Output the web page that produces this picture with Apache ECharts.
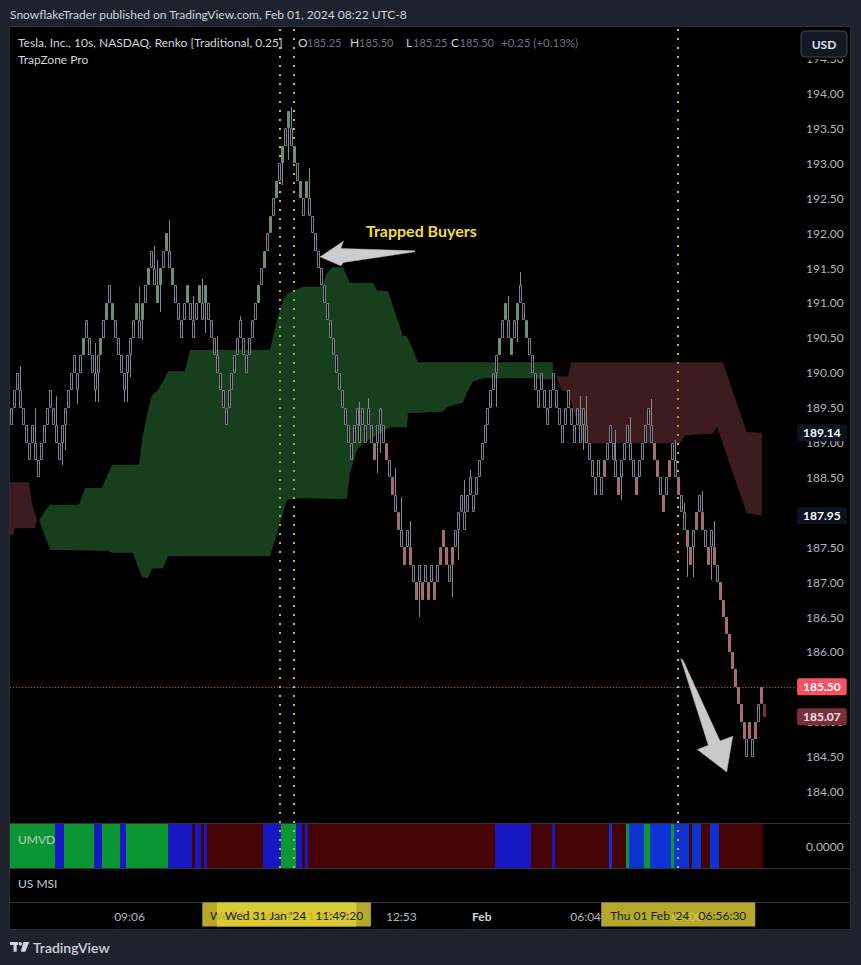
<!DOCTYPE html>
<html>
<head>
<meta charset="utf-8">
<title>TSLA Renko - TrapZone Pro</title>
<script src="https://cdn.jsdelivr.net/npm/echarts@6/dist/echarts.min.js"></script>
<style>
  html, body { margin: 0; padding: 0; background: #1e222d; }
  #chart { width: 861px; height: 965px; }
</style>
</head>
<body>
<div id="chart"></div>
<script>
// ===================== DATA =====================
const BOX_SIZE = 0.25;

// bottom price of every renko brick, left to right
const brickBottoms = [
  189.25, 189.5, 189.75, 189.5, 189.25, 189.0, 188.75, 189.0, 188.75, 188.5,
  188.75, 189.0, 189.25, 189.5, 189.25, 189.0, 188.75, 189.0, 189.25, 189.5,
  189.75, 190.0, 189.75, 190.0, 190.25, 190.5, 190.25, 190.0, 189.75, 190.0,
  190.25, 190.5, 190.75, 191.0, 190.75, 190.5, 190.25, 190.0, 189.75, 190.0,
  190.25, 190.5, 190.75, 190.5, 190.75, 191.0, 191.25, 191.5, 191.25, 191.0,
  191.25, 191.5, 191.75, 191.5, 191.25, 191.0, 190.75, 190.5, 190.75, 191.0,
  190.75, 190.5, 190.75, 191.0, 190.75, 191.0, 190.75, 190.5, 190.25, 190.0,
  189.75, 189.5, 189.25, 189.5, 189.75, 190.0, 190.25, 190.5, 190.25, 190.0,
  190.25, 190.5, 190.75, 191.0, 191.25, 191.5, 191.75, 192.0, 192.25, 192.5,
  192.75, 193.0, 193.25, 193.5, 193.25, 193.0, 192.75, 192.5, 192.25, 192.5,
  192.25, 192.0, 191.75, 191.5, 191.25, 191.0, 190.75, 190.5, 190.25, 190.0,
  189.75, 189.5, 189.25, 189.0, 188.75, 189.0, 189.25, 189.0, 189.25, 189.0,
  189.25, 189.0, 188.75, 189.0, 189.25, 189.0, 188.75, 188.5, 188.25, 188.0,
  187.75, 187.5, 187.25, 187.5, 187.25, 187.0, 186.75, 187.0, 186.75, 187.0,
  186.75, 187.0, 186.75, 187.0, 187.25, 187.5, 187.25, 187.0, 187.25, 187.5,
  187.75, 188.0, 187.75, 188.0, 188.25, 188.0, 188.25, 188.5, 188.75, 189.0,
  189.25, 189.5, 189.75, 190.0, 190.25, 190.5, 190.75, 190.5, 190.25, 190.5,
  190.75, 191.0, 190.75, 190.5, 190.25, 190.0, 189.75, 189.5, 189.75, 189.5,
  189.25, 189.5, 189.75, 189.5, 189.25, 189.0, 189.25, 189.5, 189.25, 189.0,
  189.25, 189.0, 189.25, 189.0, 188.75, 188.5, 188.25, 188.5, 188.25, 188.5,
  188.75, 189.0, 188.75, 188.5, 188.25, 188.5, 188.75, 189.0, 188.75, 188.5,
  188.25, 188.5, 188.75, 189.0, 189.25, 189.0, 188.75, 188.5, 188.25, 188.0,
  188.25, 188.5, 188.75, 188.5, 188.25, 188.0, 187.75, 187.5, 187.25, 187.5,
  187.75, 188.0, 187.75, 187.5, 187.25, 187.5, 187.25, 187.0, 186.75, 186.5,
  186.25, 186.0, 185.75, 185.5, 185.25, 185.0, 184.75, 184.5, 184.75, 184.5,
  184.75, 185.0, 185.25
];

// bricks painted green / red by the indicator (others: black body)
const greenBricks = [24, 30, 32, 34, 42, 44, 46, 49, 50, 52, 54, 59, 63, 65,
  83, 85, 87, 89, 91, 93, 95, 97, 99, 164, 166, 168, 170, 173];
const redBricks = [122, 126, 128, 130, 132, 134, 136, 138, 140, 142, 144, 145, 146, 148,
  199, 204, 210, 216, 217, 219, 221, 224, 227, 228, 230, 232, 234, 236,
  238, 239, 240, 241, 242, 243, 244, 245, 246, 248, 250, 252];

// wicks: brick index, low, high (null = no wick on that side)
const wickIndex = [3, 8, 15, 17, 18, 22, 28, 29, 38, 39, 40, 43, 44, 48, 49, 50, 53, 61, 64, 65,
  69, 77, 91, 93, 94, 100, 117, 120, 123, 124, 129, 131, 134, 137, 148, 150, 152, 154, 163, 167,
  170, 171, 191, 192, 193, 203, 205, 208, 215, 223, 226, 227, 229, 232, 235, 236];
const wickLow = [null, null, null, 188.68, 188.89, 189.55, 189.58, 189.58, 189.58, 189.58,
  189.94, null, 190.47, null, null, 190.87, null, null, null, 190.57,
  null, null, 192.69, 193.05, null, null, null, null, 188.56, 188.85,
  null, null, null, 186.5, 186.79, 187.32, null, null, 189.51, null,
  190.44, null, null, 188.89, null, null, 188.18, null, null, null,
  null, 187.08, 187.08, null, 187.03, null];
const wickHigh = [190.1, 189.5, 189.67, null, null, null, 190.42, null, null, null,
  null, 191.23, null, 191.82, 191.62, null, 192.19, 191.1, 191.34, null,
  190.52, 190.81, null, null, 193.81, 192.93, 189.58, 189.64, null, null,
  188.63, 188.22, 187.87, null, null, null, 188.46, 188.6, null, 191.1,
  null, 191.45, 189.66, null, 189.66, 189.18, null, 189.37, 189.63, 189.04,
  188.13, null, null, 188.3, null, 187.87];

// forming brick after the last one: index, from, to
const formingBrick = [253, 185.25, 185.07];

// TrapZone clouds: [brick index, price] along upper and lower edges
const cloudRedLeftTop = [[-0.6, 188.43], [5.8, 188.43], [6.8, 188.13], [8.5, 187.89]];
const cloudRedLeftBottom = [[-0.6, 187.67], [0.4, 187.67], [1.1, 187.77], [7.8, 187.77], [8.5, 187.89]];
const cloudGreenTop = [[9.2, 187.89], [12.2, 188.08], [12.9, 188.11], [22.6, 188.11], [24.6, 188.35],
  [30.3, 188.35], [33.7, 188.68], [42.8, 188.68], [43.8, 189.04], [45.8, 189.47], [47.1, 189.68],
  [49.1, 189.75], [50.5, 189.85], [52.5, 190.02], [58.2, 190.02], [59.9, 190.33], [86.8, 190.33],
  [89.1, 190.75], [91.1, 191.04], [92.8, 191.14], [97.9, 191.23], [104.2, 191.23], [105.9, 191.43],
  [107.6, 191.51], [111.3, 191.51], [113.6, 191.29], [121.4, 191.29], [122.7, 191.18], [126.4, 191.17],
  [131.4, 190.53], [132.8, 190.53], [136.5, 190.15], [181.8, 190.15]];
const cloudGreenBottom = [[9.2, 187.89], [12.9, 187.46], [32.0, 187.45], [33.7, 187.42], [40.7, 187.42],
  [43.8, 187.07], [45.8, 187.06], [47.1, 187.19], [50.8, 187.20], [52.5, 187.37], [86.8, 187.37],
  [92.5, 188.18], [96.8, 188.20], [112.6, 188.19], [113.6, 188.56], [116.0, 188.89], [118.0, 188.99],
  [127.1, 189.22], [132.8, 189.22], [133.1, 189.42], [144.9, 189.44], [146.2, 189.51], [151.6, 189.57],
  [152.9, 189.71], [154.9, 189.87], [158.3, 189.92], [174.1, 189.92], [181.8, 189.90]];
const cloudRedRightTop = [[182.8, 189.95], [186.9, 189.95], [187.9, 190.15], [238.9, 190.15],
  [246.9, 189.15], [252.0, 189.14]];
const cloudRedRightBottom = [[182.8, 189.95], [184.8, 189.75], [186.9, 189.72], [188.5, 189.51],
  [191.9, 188.99], [224.5, 188.99], [226.2, 189.10], [235.6, 189.13], [236.9, 189.23],
  [246.9, 187.99], [252.0, 187.95]];

// UMVD state runs per brick: g green, b blue, c bright blue, r dark red
const umvdRuns = [['g', 15], ['b', 3], ['g', 10], ['b', 3], ['g', 6], ['b', 2], ['g', 14], ['b', 8],
  ['r', 1], ['b', 2], ['r', 1], ['b', 1], ['r', 19], ['b', 6], ['g', 5], ['b', 2], ['r', 1], ['b', 1],
  ['r', 63], ['b', 12], ['r', 7], ['b', 1], ['r', 18], ['c', 1], ['r', 5], ['g', 1], ['c', 5], ['g', 2],
  ['c', 7], ['g', 1], ['c', 5], ['r', 1], ['c', 3], ['r', 3], ['c', 3], ['r', 15]];

// visible price-scale labels (185.50 and 188.00 sit fully under badges)
const priceTicks = ['184.00', '184.50', '185.00', '186.00', '186.50', '187.00', '187.50',
  '188.50', '189.00', '189.50', '190.00', '190.50', '191.00', '191.50', '192.00',
  '192.50', '193.00', '193.50', '194.00', '194.50'];
const timeTickPos = [39.6, 130.9, 157.9, 192.8, 227.0];
const timeTickLabels = ['09:06', '12:53', 'Feb', '06:04', '07:00'];

const cursorLines = [89.9, 94.8, 223.9];
const cursorLabels = ["Wed 31 Jan '24   11:47:40", "Wed 31 Jan '24   11:49:20", "Thu 01 Feb '24   06:56:30"];

const priceBadges = [
  { value: 189.14, bg: '#0c1220', fg: '#ffffff', line: false },
  { value: 187.95, bg: '#0c1220', fg: '#ffffff', line: false },
  { value: 185.50, bg: '#f7525f', fg: '#ffffff', line: true },
  { value: 185.07, bg: '#7b2e3a', fg: '#ececec', line: false }
];

const legendValues = { O: '185.25', H: '185.50', L: '185.25', C: '185.50', chg: '+0.25 (+0.13%)' };

// ===================== STYLE =====================
const FONT = "Lato, 'Noto Sans', sans-serif";
const OUTLINE = '#7e818d';
const WICK = '#868995';
const FILLS = ['#000000', '#43b043', '#f24848'];
const GREEN_CLOUD = 'rgba(60,166,76,0.38)';
const RED_CLOUD = 'rgba(160,72,78,0.38)';
const UMVD_COLORS = { g: '#0a9633', b: '#1717c4', c: '#0d33d3', r: '#450306' };
const DOT = '#c8b82e';
const X_MIN = -0.5, X_MAX = 263.5;

// ===================== BUILD =====================
const fillType = brickBottoms.map(() => 0);
greenBricks.forEach(i => { fillType[i] = 1; });
redBricks.forEach(i => { fillType[i] = 2; });
const loOf = {}, hiOf = {};
wickIndex.forEach((idx, k) => {
  if (wickLow[k] != null) loOf[idx] = wickLow[k];
  if (wickHigh[k] != null) hiOf[idx] = wickHigh[k];
});
const brickData = brickBottoms.map((b, i) => [i, b, b + BOX_SIZE,
  loOf[i] != null ? loOf[i] : b, hiOf[i] != null ? hiOf[i] : b + BOX_SIZE, fillType[i]]);

const umvdCodes = [];
umvdRuns.forEach(([c, n]) => { for (let k = 0; k < n; k++) umvdCodes.push(c); });
const umvdKeys = ['g', 'b', 'c', 'r'];
const umvdData = umvdCodes.map((c, i) => [i, umvdKeys.indexOf(c)]);

const clouds = [
  { top: cloudRedLeftTop, bottom: cloudRedLeftBottom, color: RED_CLOUD },
  { top: cloudGreenTop, bottom: cloudGreenBottom, color: GREEN_CLOUD },
  { top: cloudRedRightTop, bottom: cloudRedRightBottom, color: RED_CLOUD }
];

function renderBrick(params, api) {
  const i = api.value(0), bot = api.value(1), top = api.value(2);
  const lo = api.value(3), hi = api.value(4), ft = api.value(5);
  const pT = api.coord([i, top]), pB = api.coord([i, bot]);
  const x0 = Math.round(pT[0] - 1.5);
  const yT = Math.round(pT[1]), yB = Math.round(pB[1]);
  const ch = [];
  if (hi > top + 1e-6) {
    const yH = Math.round(api.coord([i, hi])[1]);
    ch.push({ type: 'rect', shape: { x: x0 + 1, y: yH, width: 1, height: yT - yH }, style: { fill: WICK } });
  }
  if (lo < bot - 1e-6) {
    const yL = Math.round(api.coord([i, lo])[1]);
    ch.push({ type: 'rect', shape: { x: x0 + 1, y: yB, width: 1, height: yL - yB }, style: { fill: WICK } });
  }
  ch.push({ type: 'rect', shape: { x: x0 + 0.5, y: yT + 0.5, width: 2, height: yB - yT - 1 },
    style: { fill: FILLS[ft], stroke: OUTLINE, lineWidth: 1 } });
  return { type: 'group', children: ch };
}

function renderForming(params, api) {
  const i = api.value(0);
  const a = api.coord([i, api.value(1)]), b = api.coord([i, api.value(2)]);
  const x0 = Math.round(a[0] - 1.5);
  return { type: 'rect', shape: { x: x0, y: Math.round(a[1]), width: 3, height: Math.round(b[1]) - Math.round(a[1]) },
    style: { fill: '#7b2e3a' } };
}

function renderCloud(params, api) {
  const c = clouds[params.dataIndex];
  const pts = c.top.concat(c.bottom.slice().reverse()).map(p => api.coord(p));
  return { type: 'polygon', shape: { points: pts }, style: { fill: c.color } };
}

function renderUmvd(params, api) {
  const i = api.value(0), c = umvdKeys[api.value(1)];
  const l = api.coord([i - 0.5, 1]), r = api.coord([i + 0.5, 0]);
  const x0 = Math.round(l[0]), x1 = Math.round(r[0]);
  return { type: 'rect', shape: { x: x0, y: l[1], width: x1 - x0, height: r[1] - l[1] },
    style: { fill: UMVD_COLORS[c] } };
}

const hiddenAxis = { axisLine: { show: false }, axisTick: { show: false }, splitLine: { show: false }, axisLabel: { show: false } };

const option = {
  backgroundColor: '#1e222d',
  animation: false,
  textStyle: { fontFamily: FONT },
  grid: [
    { left: 10.2, top: 27, width: 785.9, height: 796 },
    { left: 10.2, top: 824, width: 785.9, height: 44 },
    { left: 10.2, top: 869, width: 785.9, height: 33 }
  ],
  xAxis: [
    Object.assign({ type: 'value', gridIndex: 0, min: X_MIN, max: X_MAX }, hiddenAxis),
    Object.assign({ type: 'value', gridIndex: 1, min: X_MIN, max: X_MAX }, hiddenAxis),
    {
      type: 'value', gridIndex: 2, min: X_MIN, max: X_MAX, position: 'bottom',
      axisLine: { show: false }, axisTick: { show: false }, splitLine: { show: false },
      axisLabel: {
        customValues: timeTickPos,
        formatter: function (v) {
          const k = timeTickPos.findIndex(p => Math.abs(p - v) < 0.01);
          const s = k >= 0 ? timeTickLabels[k] : '';
          return s === 'Feb' ? '{b|Feb}' : s;
        },
        color: '#b2b5be', fontSize: 12, margin: 8, fontFamily: FONT,
        rich: { b: { fontWeight: 'bold', color: '#d1d4dc', fontSize: 12, fontFamily: FONT } }
      }
    }
  ],
  yAxis: [
    {
      type: 'value', gridIndex: 0, min: 183.549, max: 194.953, position: 'right',
      axisLine: { show: false }, axisTick: { show: false }, splitLine: { show: false },
      axisLabel: {
        customValues: priceTicks.map(Number),
        formatter: v => Number(v).toFixed(2),
        color: '#b2b5be', fontSize: 12, margin: 10, fontFamily: FONT
      }
    },
    {
      type: 'value', gridIndex: 1, min: 0, max: 1, position: 'right',
      axisLine: { show: false }, axisTick: { show: false }, splitLine: { show: false },
      axisLabel: { customValues: [0.5], formatter: () => '0.0000', color: '#b2b5be', fontSize: 12, margin: 10, fontFamily: FONT }
    },
    Object.assign({ type: 'value', gridIndex: 2, min: 0, max: 1 }, hiddenAxis)
  ],
  series: [
    { // cursor lines in price pane
      type: 'scatter', xAxisIndex: 0, yAxisIndex: 0, data: [], silent: true, z: 1,
      markLine: {
        silent: true, z: 1, symbol: ['none', 'none'], label: { show: false }, animation: false,
        lineStyle: { color: DOT, width: 2, type: [2, 7] },
        data: cursorLines.map(v => ({ xAxis: v }))
      }
    },
    {
      type: 'custom', name: 'TrapZone', xAxisIndex: 0, yAxisIndex: 0, z: 2, clip: true, silent: true,
      data: clouds.map(c => [c.top[0][0], c.top[0][1]]),
      renderItem: renderCloud
    },
    {
      type: 'custom', name: 'Renko', xAxisIndex: 0, yAxisIndex: 0, z: 3, clip: true, silent: true,
      encode: { x: 0, y: [1, 2] },
      data: brickData, renderItem: renderBrick
    },
    {
      type: 'custom', name: 'Forming', xAxisIndex: 0, yAxisIndex: 0, z: 3, silent: true,
      data: [formingBrick], renderItem: renderForming
    },
    { // price line + axis badges
      type: 'scatter', xAxisIndex: 0, yAxisIndex: 0, data: [], silent: true, z: 5, clip: false,
      markLine: {
        silent: true, symbol: ['none', 'none'], animation: false,
        data: priceBadges.map(b => ({
          yAxis: b.value,
          lineStyle: b.line ? { color: b.bg, type: [1, 2], width: 1 } : { color: 'rgba(0,0,0,0)', width: 0 },
          label: {
            show: true, position: 'end', distance: 1, formatter: b.value.toFixed(2),
            backgroundColor: b.bg, color: b.fg, padding: [3, 6, 2, 6], borderRadius: 2,
            fontSize: 12, fontWeight: 'bold', fontFamily: FONT
          }
        }))
      }
    },
    {
      type: 'custom', name: 'UMVD', xAxisIndex: 1, yAxisIndex: 1, z: 2, silent: true,
      data: umvdData, renderItem: renderUmvd
    },
    { // cursor lines in UMVD pane
      type: 'scatter', xAxisIndex: 1, yAxisIndex: 1, data: [], silent: true, z: 4,
      markLine: {
        silent: true, symbol: ['none', 'none'], label: { show: false }, animation: false,
        lineStyle: { color: DOT, width: 2, type: [2, 7] },
        data: cursorLines.map(v => ({ xAxis: v }))
      }
    }
  ]
};

const chart = echarts.init(document.getElementById('chart'), null, { renderer: 'svg', width: 861, height: 965 });
chart.setOption(option);

// ===================== OVERLAYS =====================
const P = (i, p) => chart.convertToPixel({ xAxisIndex: 0, yAxisIndex: 0 }, [i, p]);
const PX = (i) => chart.convertToPixel({ xAxisIndex: 0 }, i);
const els = [];
// panel background and separators
els.push({ type: 'rect', z: -2, shape: { x: 10, y: 27, width: 840, height: 902 }, style: { fill: '#000000' } });
els.push({ type: 'rect', z: -1, shape: { x: 9.5, y: 26.5, width: 841, height: 903 }, style: { fill: 'none', stroke: '#2a2e39', lineWidth: 1 } });
[823.5, 868.5, 902.5].forEach(y => els.push({ type: 'line', z: -1, shape: { x1: 10, y1: y, x2: 850, y2: y }, style: { stroke: '#30343f', lineWidth: 1 } }));

// header
els.push({ type: 'text', z: 100, x: 10, y: 14.5, style: { text: 'SnowflakeTrader published on TradingView.com, Feb 01, 2024 08:22 UTC-8', fill: '#d1d4dc', font: '12px ' + FONT, verticalAlign: 'middle' } });
// legend
els.push({ type: 'text', z: 100, x: 18, y: 42, style: { text: 'Tesla, Inc., 10s, NASDAQ, Renko [Traditional, 0.25]', fill: '#d1d4dc', font: '12px ' + FONT, verticalAlign: 'middle' } });
[['O', 298, 307, legendValues.O], ['H', 350, 359, legendValues.H], ['L', 406, 413, legendValues.L], ['C', 451, 459.5, legendValues.C]].forEach(([k, xk, xv, v]) => {
  els.push({ type: 'text', z: 100, x: xk, y: 42, style: { text: k, fill: '#d1d4dc', font: '12px ' + FONT, verticalAlign: 'middle' } });
  els.push({ type: 'text', z: 100, x: xv, y: 42, style: { text: v, fill: '#6f7280', font: '11px ' + FONT, verticalAlign: 'middle' } });
});
els.push({ type: 'text', z: 100, x: 501, y: 42, style: { text: legendValues.chg, fill: '#6f7280', font: '11.5px ' + FONT, verticalAlign: 'middle' } });
els.push({ type: 'text', z: 100, x: 18, y: 59.5, style: { text: 'TrapZone Pro', fill: '#d1d4dc', font: '12px ' + FONT, verticalAlign: 'middle' } });
// USD button (masks the top of the price scale)
els.push({ type: 'rect', z: 99, shape: { x: 797, y: 27.5, width: 52.5, height: 32 }, style: { fill: '#000000' } });
els.push({ type: 'rect', z: 100, shape: { x: 801, y: 31, width: 46, height: 26, r: 4 }, style: { fill: '#131722', stroke: '#434651', lineWidth: 1 } });
els.push({ type: 'text', z: 101, x: 824, y: 44.5, style: { text: 'USD', fill: '#e0e3eb', font: 'bold 12px ' + FONT, align: 'center', verticalAlign: 'middle' } });
// pane labels
els.push({ type: 'text', z: 100, x: 18, y: 839, style: { text: 'UMVD', fill: '#c3c6ce', font: '12px ' + FONT, verticalAlign: 'middle' } });
els.push({ type: 'text', z: 100, x: 18, y: 883.5, style: { text: 'US MSI', fill: '#c3c6ce', font: '12px ' + FONT, verticalAlign: 'middle' } });

// cursor date boxes on the time axis
const BOX_W = 154;
cursorLines.forEach((v, k) => {
  const cx = PX(v);
  els.push({ type: 'rect', z: 100 + 2 * k, shape: { x: cx - BOX_W / 2, y: 902.5, width: BOX_W, height: 24 }, style: { fill: 'rgba(228,210,54,0.8)' } });
  els.push({ type: 'text', z: 101 + 2 * k, x: cx, y: 915, style: { text: cursorLabels[k], fill: '#1c1c1c', font: '12px ' + FONT, align: 'center', verticalAlign: 'middle' } });
});

// annotation arrows (anchored at data points)
const tip1 = P(103.6, 191.66);
const arrow1 = [[0, 0], [23.4, -15.7], [20.7, -8.4], [94.7, -6], [94.7, -5], [23.4, 5.6], [20.7, 9]];
els.push({ type: 'polygon', z: 100, shape: { points: arrow1.map(d => [tip1[0] + d[0], tip1[1] + d[1]]) }, style: { fill: '#cdcdcd', stroke: '#b5b5b5', lineWidth: 0.5 } });
const txt = P(119.0, 192.04);
els.push({ type: 'text', z: 100, x: txt[0], y: txt[1], style: { text: 'Trapped Buyers', fill: '#f2de3a', font: 'bold 16px ' + FONT, verticalAlign: 'middle' } });
const tip2 = P(240.2, 184.28);
const arrow2 = [[-46, -113.4], [-18.4, -26.7], [-29.4, -22.4], [0, 0], [6, -35.7], [-6.7, -31], [-43.7, -111.7]];
els.push({ type: 'polygon', z: 100, shape: { points: arrow2.map(d => [tip2[0] + d[0], tip2[1] + d[1]]) }, style: { fill: '#c9c9c9', stroke: '#b0b0b0', lineWidth: 0.5 } });

// footer logo
els.push({ type: 'rect', z: 100, shape: { x: 10, y: 942, width: 8, height: 3 }, style: { fill: '#d1d4dc' } });
els.push({ type: 'rect', z: 100, shape: { x: 13.5, y: 942, width: 3.2, height: 9.7 }, style: { fill: '#d1d4dc' } });
els.push({ type: 'circle', z: 100, shape: { cx: 20.3, cy: 943.8, r: 1.8 }, style: { fill: '#d1d4dc' } });
els.push({ type: 'polygon', z: 100, shape: { points: [[23.3, 942], [29.3, 942], [25.3, 951.7], [20.8, 951.7]] }, style: { fill: '#d1d4dc' } });
els.push({ type: 'text', z: 100, x: 33, y: 947, style: { text: 'TradingView', fill: '#d1d4dc', font: '600 14px ' + FONT, verticalAlign: 'middle' } });

chart.setOption({ graphic: { elements: els } });
</script>
</body>
</html>
